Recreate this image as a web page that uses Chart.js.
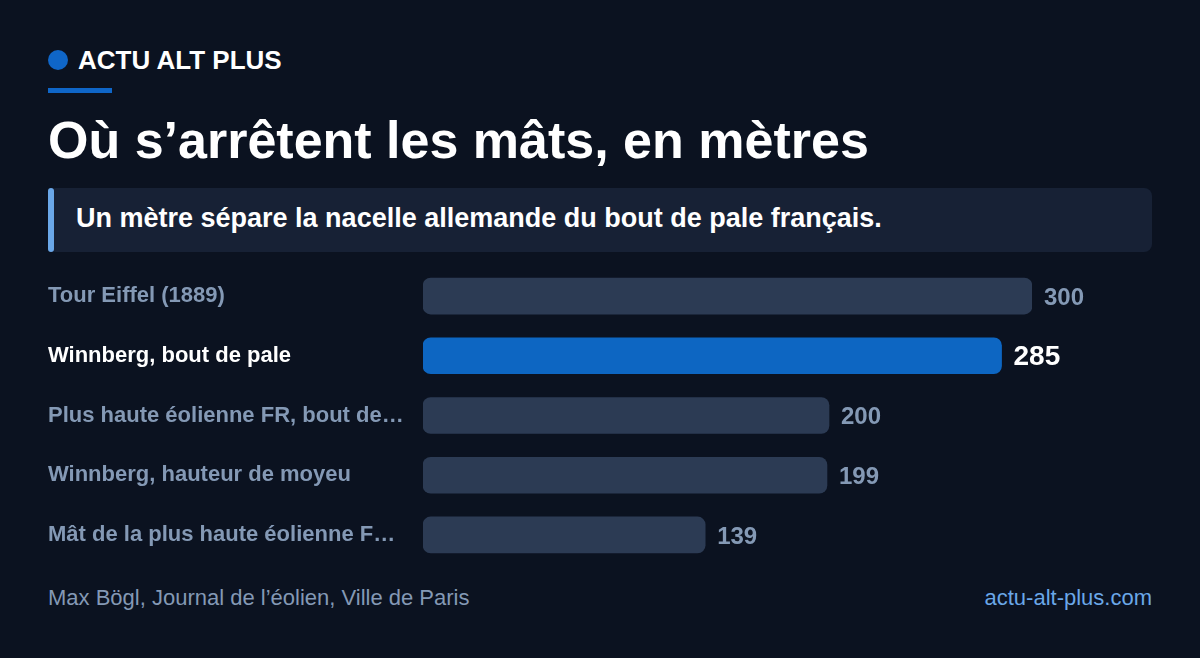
<!DOCTYPE html>
<html lang="fr">
<head>
<meta charset="utf-8">
<script src="https://cdn.jsdelivr.net/npm/chart.js@4/dist/chart.umd.min.js"></script>
<style>
  html, body { margin:0; padding:0; }
  body { width:1200px; height:658px; background:#0b1220; position:relative; overflow:hidden;
         font-family:"Liberation Sans", Arial, sans-serif; }
  .brand { position:absolute; left:48px; top:45px; height:30px; display:flex; align-items:center; }
  .dot { width:20px; height:20px; border-radius:50%; background:#0f66c8; margin-right:10px; }
  .brand span { color:#ffffff; font-weight:bold; font-size:26px; }
  .rule { position:absolute; left:48px; top:88px; width:64px; height:5px; background:#0f66c8; }
  h1 { position:absolute; left:48px; top:108px; margin:0; color:#ffffff; font-size:52px; font-weight:bold; line-height:64px; }
  .sub { position:absolute; left:48px; top:188px; width:1104px; height:64px; background:#172135; border-radius:8px; }
  .sub .acc { position:absolute; left:0; top:0; width:6px; height:64px; background:#6aa7e8; border-radius:3px; }
  .sub p { position:absolute; left:28px; top:0; margin:0; line-height:60px; color:#ffffff; font-weight:bold; font-size:27px; }
  .wrap { position:absolute; left:48px; top:253px; width:1104px; height:325px; }
  .foot { position:absolute; top:586px; font-size:22px; line-height:24px; }
  .foot.l { left:48px; color:#8499b5; }
  .foot.r { right:48px; color:#6aa7e8; }
</style>
</head>
<body>
<div class="brand"><div class="dot"></div><span>ACTU ALT PLUS</span></div>
<div class="rule"></div>
<h1>Où s’arrêtent les mâts, en mètres</h1>
<div class="sub"><div class="acc"></div><p>Un mètre sépare la nacelle allemande du bout de pale français.</p></div>
<div class="wrap"><canvas id="c"></canvas></div>
<div class="foot l">Max Bögl, Journal de l’éolien, Ville de Paris</div>
<div class="foot r">actu-alt-plus.com</div>
<script>
const categories = [
  "Tour Eiffel (1889)",
  "Winnberg, bout de pale",
  "Plus haute éolienne FR, bout de…",
  "Winnberg, hauteur de moyeu",
  "Mât de la plus haute éolienne F…"
];
const heights = [300, 285, 200, 199, 139];
const highlightIndex = 1;

const valueLabels = {
  id: 'valueLabels',
  afterDatasetsDraw(chart) {
    const ctx = chart.ctx;
    const meta = chart.getDatasetMeta(0);
    ctx.save();
    ctx.textAlign = 'left';
    ctx.textBaseline = 'middle';
    meta.data.forEach((bar, i) => {
      const hi = i === highlightIndex;
      ctx.font = hi ? 'bold 28px "Liberation Sans", Arial, sans-serif' : 'bold 24px "Liberation Sans", Arial, sans-serif';
      ctx.fillStyle = hi ? '#ffffff' : '#8499b5';
      ctx.fillText(String(heights[i]), bar.x + 12, bar.y + 2);
    });
    ctx.restore();
  }
};

new Chart(document.getElementById('c'), {
  type: 'bar',
  data: {
    labels: categories,
    datasets: [{
      data: heights,
      backgroundColor: heights.map((v, i) => i === highlightIndex ? '#0d66c2' : '#2c3b54'),
      borderRadius: 8,
      borderSkipped: false,
      barThickness: 36
    }]
  },
  options: {
    indexAxis: 'y',
    responsive: true,
    maintainAspectRatio: false,
    animation: false,
    layout: { padding: { left: 0, right: 120, top: 0, bottom: 0 } },
    plugins: { legend: { display: false }, tooltip: { enabled: false } },
    scales: {
      x: { display: false, min: 0, max: 300 },
      y: {
        grid: { display: false, drawTicks: false },
        border: { display: false },
        afterFit(scale) { scale.width = 375; },
        ticks: {
          crossAlign: 'far',
          padding: 0,
          color: (c) => c.index === highlightIndex ? '#ffffff' : '#8499b5',
          font: { family: '"Liberation Sans", Arial, sans-serif', size: 22, weight: 'bold' }
        }
      }
    }
  },
  plugins: [valueLabels]
});
</script>
</body>
</html>
